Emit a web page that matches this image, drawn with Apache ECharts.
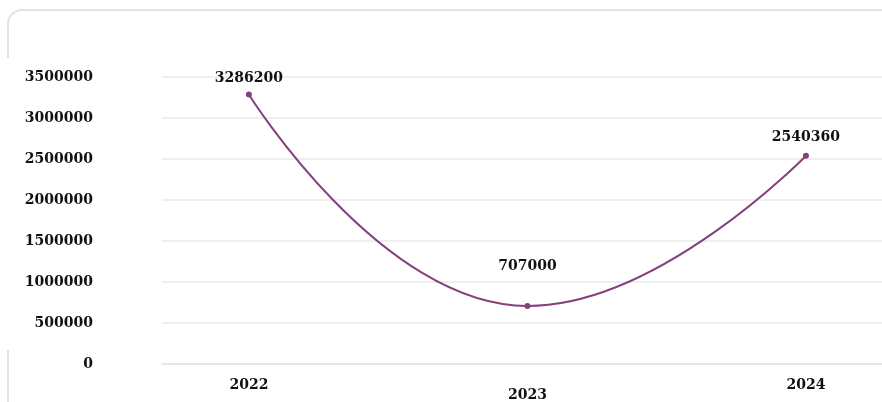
<!DOCTYPE html>
<html><head><meta charset="utf-8">
<script src="https://cdn.jsdelivr.net/npm/echarts@6/dist/echarts.min.js"></script>
<style>html,body{margin:0;padding:0;background:#fff}#c{width:882px;height:402px}</style>
</head><body><div id="c"></div>
<script>
var years = [2022, 2023, 2024];
var values = [3286200, 707000, 2540360];
var yTicks = [0, 500000, 1000000, 1500000, 2000000, 2500000, 3000000, 3500000];

var labelDist = [6, 30, 8];
var font = '"DejaVu Serif", "Liberation Serif", serif';
var data = years.map(function (y, i) {
  return { value: [y, values[i]], label: { distance: labelDist[i] } };
});
var chart = echarts.init(document.getElementById('c'));
chart.setOption({
  animation: false,
  backgroundColor: '#fff',
  graphic: [
    { type: 'rect', shape: { x: 8, y: 10, width: 900, height: 420, r: 14 },
      style: { fill: 'none', stroke: '#e2e2e2', lineWidth: 2 }, z: -10 },
    { type: 'rect', shape: { x: 0, y: 58, width: 20, height: 292 },
      style: { fill: '#fff' }, z: -9 }
  ],
  grid: { left: 162, right: 0, top: 77, bottom: 34 },
  xAxis: {
    type: 'value',
    min: 2021.688, max: 2024.273,
    axisLine: { show: true, lineStyle: { color: '#e6e6e6', width: 2 } },
    axisTick: { show: false },
    splitLine: { show: false },
    axisLabel: {
      customValues: years,
      margin: 14,
      fontFamily: font, fontWeight: 'bold', fontSize: 14, color: '#111',
      formatter: function (v) { return v === 2023 ? '{d|' + v + '}' : '{n|' + v + '}'; },
      rich: {
        n: { fontFamily: font, fontWeight: 'bold', fontSize: 14, color: '#111' },
        d: { fontFamily: font, fontWeight: 'bold', fontSize: 14, color: '#111', padding: [10, 0, 0, 0] }
      }
    }
  },
  yAxis: {
    type: 'value', min: 0, max: 3500000, interval: 500000,
    axisLine: { show: false }, axisTick: { show: false },
    splitLine: { lineStyle: { color: '#efefef', width: 2 } },
    axisLabel: { margin: 69, fontFamily: font, fontWeight: 'bold', fontSize: 14, color: '#111',
      customValues: yTicks, formatter: function (v) { return String(v); } }
  },
  series: [{
    type: 'line', smooth: true, data: data,
    symbol: 'circle', symbolSize: 6,
    lineStyle: { color: '#86407c', width: 2 },
    itemStyle: { color: '#86407c' },
    label: { show: true, position: 'top', fontFamily: font, fontWeight: 'bold', fontSize: 14, color: '#111',
      formatter: function (p) { return String(p.value[1]); } }
  }]
});
</script></body></html>
